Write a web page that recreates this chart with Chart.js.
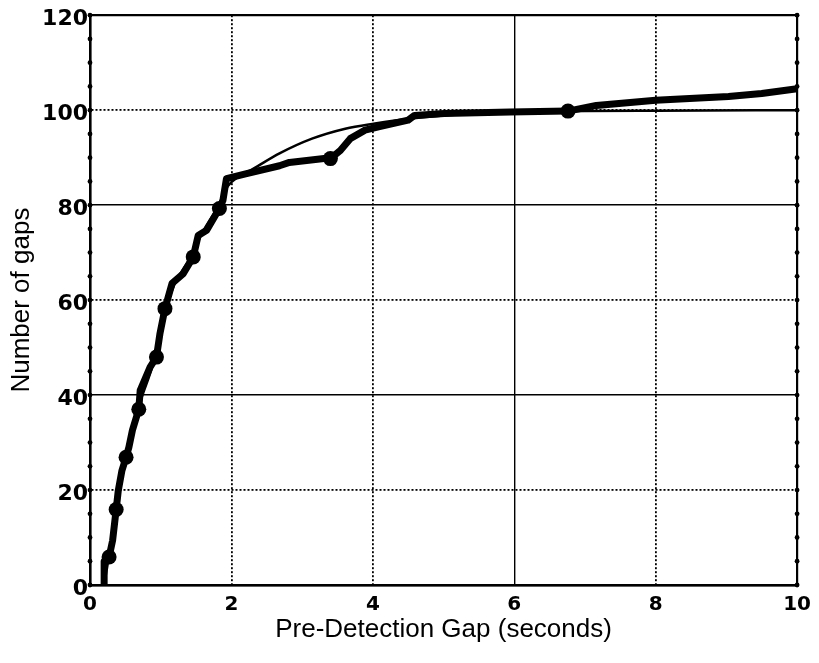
<!DOCTYPE html>
<html>
<head>
<meta charset="utf-8">
<script src="https://cdn.jsdelivr.net/npm/chart.js@4.4.1/dist/chart.umd.min.js"></script>
<style>
html,body{margin:0;padding:0;background:#fff;}
#wrap{width:819px;height:663px;position:relative;}
</style>
</head>
<body>
<div id="wrap"><canvas id="c"></canvas></div>
<script>
// ---- data ----
const observedX = [0.20,0.20,0.27,0.32,0.37,0.40,0.45,0.51,0.55,0.60,0.69,0.71,0.85,0.94,0.99,1.06,1.16,1.32,1.46,1.53,1.65,1.83,1.88,1.93,2.20,2.68,2.82,3.31,3.40,3.54,3.68,3.89,4.08,4.50,4.59,5.01,5.94,6.76,7.16,8.00,9.03,9.50,10.00];
const observedY = [0,5,5.9,9.4,15.9,19.9,24,26.9,29,32.6,37,41,45.9,48,53,58.2,63.5,65.6,69.1,73.6,74.7,79.3,81,85.6,86.6,88.3,89,89.8,89.8,91.5,94,95.8,96.5,97.9,98.9,99.3,99.6,99.8,101,102.1,102.9,103.5,104.5];
const markerX = [0.27,0.37,0.51,0.69,0.94,1.06,1.46,1.83,3.40,6.76];
const markerY = [5.9,15.9,26.9,37,48,58.2,69.1,79.3,89.8,99.8];
const fitX = [0.20,0.30,0.40,0.50,0.70,0.90,1.05,1.20,1.40,1.60,1.80,1.95,2.10,2.30,2.68,3.14,3.61,4.03,4.50,5.00,6.00,7.00,8.00,10.00];
const fitY = [0,9,19,26,38,47,57,63.5,68.5,74.5,79.5,84,86,87.6,90.9,94,96.1,97.2,98.2,98.9,99.5,99.8,99.9,100];
const xTickValues = [0,2,4,6,8,10];
const yTickValues = [0,20,40,60,80,100,120];
const yMinorValues = [0,5,10,15,20,25,30,35,40,45,50,55,60,65,70,75,80,85,90,95,100,105,110,115,120];
const solidXGrid = [0,6,10];
const solidYGrid = [0,40,80,120];
const xTitle = 'Pre-Detection Gap (seconds)';
const yTitle = 'Number of gaps';

const toPts = (xs, ys) => xs.map((x, i) => ({x: x, y: ys[i]}));

const minorDots = {
  id: 'minorDots',
  afterDraw(chart) {
    const {ctx, chartArea, scales} = chart;
    ctx.save();
    ctx.fillStyle = '#000';
    yMinorValues.forEach(v => {
      const py = scales.y.getPixelForValue(v);
      [chartArea.left, chartArea.right].forEach(px => {
        ctx.beginPath();
        ctx.arc(px, py, 2.4, 0, Math.PI * 2);
        ctx.fill();
      });
    });
    ctx.restore();
  }
};

const tickFontX = {family: 'DejaVu Sans', size: 20, weight: 'bold'};
const tickFontY = {family: 'DejaVu Sans', size: 22, weight: 'bold'};
const titleFont = {family: 'Liberation Sans, Arial, sans-serif', size: 26, weight: 'normal'};

new Chart(document.getElementById('c'), {
  type: 'scatter',
  data: {
    datasets: [
      {
        label: 'markers',
        data: toPts(markerX, markerY),
        showLine: false,
        pointRadius: 7.5,
        pointBackgroundColor: '#000',
        pointBorderColor: '#000',
        pointBorderWidth: 0,
        order: 0
      },
      {
        label: 'observed',
        data: toPts(observedX, observedY),
        showLine: true,
        borderColor: '#000',
        borderWidth: 7,
        borderJoinStyle: 'round',
        borderCapStyle: 'round',
        pointRadius: 0,
        tension: 0,
        order: 1
      },
      {
        label: 'fit',
        data: toPts(fitX, fitY),
        showLine: true,
        borderColor: '#000',
        borderWidth: 2.5,
        pointRadius: 0,
        cubicInterpolationMode: 'monotone',
        order: 2
      }
    ]
  },
  options: {
    responsive: true,
    maintainAspectRatio: false,
    animation: false,
    layout: {padding: {top: 15, right: 18, left: 0, bottom: 0}},
    plugins: {legend: {display: false}, tooltip: {enabled: false}},
    scales: {
      x: {
        type: 'linear',
        min: 0, max: 10,
        afterBuildTicks: s => { s.ticks = xTickValues.map(v => ({value: v})); },
        afterFit: s => { s.height = 78; },
        ticks: {color: '#000', font: tickFontX, padding: 8, maxRotation: 0, autoSkip: false},
        grid: {
          color: '#000',
          drawTicks: false,
          lineWidth: c => (c.tick && (c.tick.value === 0 || c.tick.value === 10)) ? 2.2 :
            (c.tick && solidXGrid.includes(c.tick.value) ? 1.4 : 1.8)
        },
        border: {
          display: true, color: '#000', width: 2.5,
          dash: c => (c.tick && !solidXGrid.includes(c.tick.value)) ? [2, 2] : []
        },
        title: {display: true, text: xTitle, color: '#000', font: titleFont, padding: {top: 0, bottom: 18}}
      },
      y: {
        type: 'linear',
        min: 0, max: 120,
        afterBuildTicks: s => { s.ticks = yTickValues.map(v => ({value: v})); },
        afterFit: s => { s.width = 90; },
        ticks: {color: '#000', font: tickFontY, padding: 2, labelOffset: 4, autoSkip: false},
        grid: {
          color: '#000',
          drawTicks: false,
          lineWidth: c => (c.tick && (c.tick.value === 0 || c.tick.value === 120)) ? 2.2 :
            (c.tick && solidYGrid.includes(c.tick.value) ? 1.4 : 1.8)
        },
        border: {
          display: true, color: '#000', width: 2.5,
          dash: c => (c.tick && !solidYGrid.includes(c.tick.value)) ? [2, 2] : []
        },
        title: {display: true, text: yTitle, color: '#000', font: titleFont, padding: {top: 6, bottom: 0}}
      }
    }
  },
  plugins: [minorDots]
});
</script>
</body>
</html>
